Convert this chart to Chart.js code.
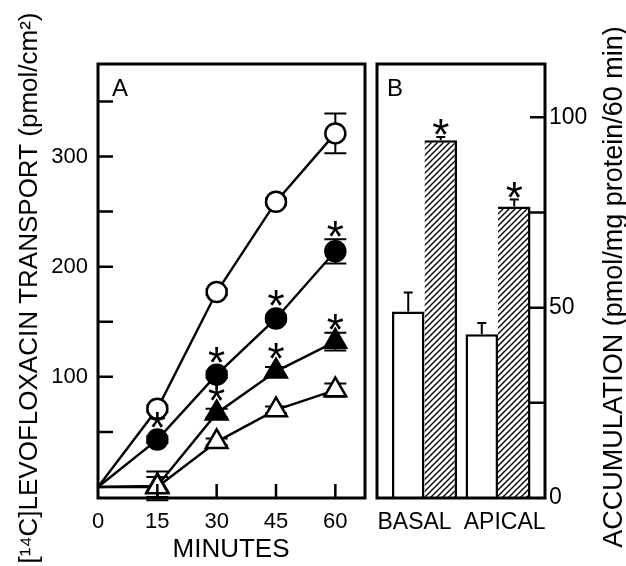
<!DOCTYPE html>
<html>
<head>
<meta charset="utf-8">
<script src="https://cdn.jsdelivr.net/npm/chart.js"></script>
<style>
html, body { margin: 0; padding: 0; background: #fff; }
#wrap { position: relative; width: 626px; height: 566px; }
#chartA { position: absolute; left: 0; top: 0; }
#chartB { position: absolute; left: 370px; top: 0; }
</style>
</head>
<body>
<div id="wrap">
  <canvas id="chartA" width="370" height="566"></canvas>
  <canvas id="chartB" width="256" height="566"></canvas>
</div>
<script>
// Panel A - transport over time
const minutes = [0, 15, 30, 45, 60];
const openCircle = [0, 71, 177, 259, 321];
const openCircleErr = [0, 3, 3, 3, 18];
const filledCircle = [0, 43, 102, 153, 214];
const filledCircleErr = [0, 3, 3, 3, 11];
const filledCircleStar = [false, true, true, true, true];
const filledTriangle = [0, 1, 67, 105, 132];
const filledTriangleErr = [0, 13, 4, 4, 8];
const filledTriangleStar = [false, false, true, true, true];
const openTriangle = [0, 0, 41, 70, 88];
const openTriangleErr = [0, 9, 3, 3, 6];

const xTicksA = [0, 15, 30, 45, 60];
const xMarksA = [15, 30, 45, 60];
const yTicksA = [100, 200, 300];
const yMarksA = [50, 100, 150, 200, 250, 300, 350];

// Panel B - accumulation
const sites = ['BASAL', 'APICAL'];
const controlAcc = [49, 43];
const controlErr = [5, 3];
const treatedAcc = [94, 76.6];
const treatedErr = [0.8, 1.8];
const treatedStar = [true, true];
const yTicksB = [0, 50, 100];
const yMarksB = [25, 50, 75, 100];

const FONT = "'Liberation Sans', Arial, Helvetica, sans-serif";
Chart.defaults.font.family = FONT;
Chart.defaults.color = '#000';

function pts(xs, ys) {
    return xs.map((x, i) => ({ x: x, y: ys[i] }));
}
function val(d) {
    return (d !== null && typeof d === 'object') ? d.y : d;
}
// fixed axis sizes, no extra padding for overhanging labels
function fixBox(size) {
    return s => {
        if (s.isHorizontal()) s.height = size; else s.width = size;
        s.paddingLeft = 0;
        s.paddingRight = 0;
        s.paddingTop = 0;
        s.paddingBottom = 0;
    };
}

// error bars, asterisks, frame, inward tick marks, panel letter, rotated titles
const decorPlugin = {
    id: 'decor',
    beforeDatasetsDraw(chart, args, opts) {
        const ctx = chart.ctx;
        const yScale = chart.scales.y;
        ctx.save();
        ctx.strokeStyle = '#000';
        ctx.lineWidth = opts.errWidth;
        chart.data.datasets.forEach((ds, di) => {
            if (!ds.errorBars) return;
            const meta = chart.getDatasetMeta(di);
            ds.errorBars.forEach((e, i) => {
                if (!e) return;
                const el = meta.data[i];
                const v = val(ds.data[i]);
                const top = yScale.getPixelForValue(v + e);
                const bot = opts.upOnly ? el.y : yScale.getPixelForValue(v - e);
                ctx.beginPath();
                ctx.moveTo(el.x, top);
                ctx.lineTo(el.x, bot);
                ctx.moveTo(el.x - opts.cap, top);
                ctx.lineTo(el.x + opts.cap, top);
                if (!opts.upOnly) {
                    ctx.moveTo(el.x - opts.cap, bot);
                    ctx.lineTo(el.x + opts.cap, bot);
                }
                ctx.stroke();
            });
        });
        ctx.restore();
    },
    afterDatasetsDraw(chart, args, opts) {
        const ctx = chart.ctx;
        const area = chart.chartArea;
        const yScale = chart.scales.y;
        const xScale = chart.scales.x;
        ctx.save();

        // asterisks
        ctx.fillStyle = '#000';
        ctx.font = '44px ' + FONT;
        ctx.textAlign = 'center';
        ctx.textBaseline = 'alphabetic';
        const m = ctx.measureText('*');
        const mid = (m.actualBoundingBoxDescent - m.actualBoundingBoxAscent) / 2;
        chart.data.datasets.forEach((ds, di) => {
            if (!ds.stars) return;
            const meta = chart.getDatasetMeta(di);
            ds.stars.forEach((s, i) => {
                if (!s) return;
                const el = meta.data[i];
                const v = val(ds.data[i]);
                const errTop = yScale.getPixelForValue(v + (ds.errorBars ? ds.errorBars[i] : 0));
                const cy = Math.min(el.y - opts.starGap, errTop - 10);
                ctx.fillText('*', el.x, cy - mid);
            });
        });

        // frame
        ctx.strokeStyle = '#000';
        ctx.lineWidth = 3;
        ctx.strokeRect(area.left, area.top, area.right - area.left, area.bottom - area.top);

        // inward tick marks
        ctx.lineWidth = 2.5;
        ctx.beginPath();
        (opts.yMarks || []).forEach(v => {
            const py = yScale.getPixelForValue(v);
            if (opts.ySide === 'left') {
                ctx.moveTo(area.left, py);
                ctx.lineTo(area.left + 15, py);
            } else {
                ctx.moveTo(area.right, py);
                ctx.lineTo(area.right - 15, py);
            }
        });
        (opts.xMarks || []).forEach(v => {
            const px = xScale.getPixelForValue(v);
            ctx.moveTo(px, area.bottom);
            ctx.lineTo(px, area.bottom - 14);
        });
        ctx.stroke();

        // panel letter
        ctx.font = '24px ' + FONT;
        ctx.textBaseline = 'middle';
        ctx.fillText(opts.letter, area.left + opts.letterDx, area.top + 25);

        // titles
        (opts.titles || []).forEach(t => {
            ctx.save();
            ctx.font = t.size + 'px ' + FONT;
            ctx.translate(t.x, t.y);
            ctx.rotate(t.rot);
            ctx.textAlign = 'center';
            ctx.textBaseline = 'middle';
            ctx.fillText(t.text, 0, 0);
            ctx.restore();
        });
        ctx.restore();
    }
};

function lineSet(data, err, stars, style, radius, filled) {
    return {
        data: pts(minutes, data),
        errorBars: err,
        stars: stars,
        borderColor: '#000',
        borderWidth: 2.4,
        pointStyle: style,
        pointRadius: minutes.map(m => m === 0 ? 0 : radius),
        pointBorderWidth: 2.5,
        pointBorderColor: '#000',
        pointBackgroundColor: filled ? '#000' : '#fff',
        tension: 0,
        fill: false
    };
}

new Chart(document.getElementById('chartA'), {
    type: 'line',
    data: {
        datasets: [
            lineSet(openTriangle, openTriangleErr, null, 'triangle', 12.5, false),
            lineSet(openCircle, openCircleErr, null, 'circle', 10, false),
            lineSet(filledCircle, filledCircleErr, filledCircleStar, 'circle', 10, true),
            lineSet(filledTriangle, filledTriangleErr, filledTriangleStar, 'triangle', 12.5, true)
        ]
    },
    options: {
        responsive: false,
        animation: false,
        events: [],
        clip: false,
        layout: { autoPadding: false, padding: { top: 64, right: 5, left: 0, bottom: 0 } },
        plugins: {
            legend: { display: false },
            tooltip: { enabled: false },
            decor: {
                errWidth: 2, cap: 11, upOnly: false, starGap: 20,
                yMarks: yMarksA, ySide: 'left', xMarks: xMarksA,
                letter: 'A', letterDx: 22,
                titles: [
                    { text: '[\u00b9\u2074C]LEVOFLOXACIN TRANSPORT (pmol/cm\u00b2)', size: 26, x: 30, y: 288, rot: -Math.PI / 2 },
                    { text: 'MINUTES', size: 26, x: 231, y: 550, rot: 0 }
                ]
            }
        },
        scales: {
            x: {
                type: 'linear',
                min: 0,
                max: 67.5,
                afterBuildTicks: s => { s.ticks = xTicksA.map(v => ({ value: v })); },
                afterFit: fixBox(68),
                ticks: { padding: 11, font: { size: 22 }, maxRotation: 0, autoSkip: false },
                grid: { display: false, drawTicks: false },
                border: { display: false }
            },
            y: {
                type: 'linear',
                min: -10,
                max: 384,
                afterBuildTicks: s => { s.ticks = yTicksA.map(v => ({ value: v })); },
                afterFit: fixBox(98),
                ticks: { padding: 10, font: { size: 22 } },
                grid: { display: false, drawTicks: false },
                border: { display: false }
            }
        }
    },
    plugins: [decorPlugin]
});

// hatch pattern for treated bars
const ctxB = document.getElementById('chartB').getContext('2d');
const tile = document.createElement('canvas');
tile.width = 6;
tile.height = 6;
const tg = tile.getContext('2d');
tg.fillStyle = '#fff';
tg.fillRect(0, 0, 6, 6);
tg.strokeStyle = '#000';
tg.lineWidth = 1.4;
tg.beginPath();
tg.moveTo(0, 6); tg.lineTo(6, 0);
tg.moveTo(-3, 3); tg.lineTo(3, -3);
tg.moveTo(3, 9); tg.lineTo(9, 3);
tg.stroke();
const hatch = ctxB.createPattern(tile, 'repeat');

const siteIdx = sites.map((s, i) => i);

new Chart(ctxB, {
    type: 'bar',
    data: {
        datasets: [
            {
                data: pts(siteIdx, controlAcc),
                errorBars: controlErr,
                backgroundColor: '#fff',
                borderColor: '#000',
                borderWidth: { left: 2.5, top: 2.5, right: 2.5, bottom: 0 },
                borderSkipped: false
            },
            {
                data: pts(siteIdx, treatedAcc),
                errorBars: treatedErr,
                stars: treatedStar,
                backgroundColor: hatch,
                borderColor: '#000',
                borderWidth: { left: 0, top: 2.5, right: 2.5, bottom: 0 },
                borderSkipped: false
            }
        ]
    },
    options: {
        responsive: false,
        animation: false,
        events: [],
        layout: { autoPadding: false, padding: { top: 64, left: 7, right: 0, bottom: 0 } },
        categoryPercentage: 0.884,
        barPercentage: 1.0,
        plugins: {
            legend: { display: false },
            tooltip: { enabled: false },
            decor: {
                errWidth: 2, cap: 4.5, upOnly: true, starGap: 0,
                yMarks: yMarksB, ySide: 'right',
                letter: 'B', letterDx: 18,
                titles: [
                    { text: 'ACCUMULATION (pmol/mg protein/60 min)', size: 27, x: 245, y: 287, rot: -Math.PI / 2 }
                ]
            }
        },
        scales: {
            x: {
                type: 'linear',
                offset: false,
                min: -0.646,
                max: 1.639,
                // the category labels sit a little apart from the bar pairs
                afterBuildTicks: s => { s.ticks = [-0.135, 1.09].map(v => ({ value: v })); },
                afterFit: fixBox(68),
                ticks: {
                    padding: 11,
                    font: { size: 23 },
                    maxRotation: 0,
                    autoSkip: false,
                    callback: (v, i) => sites[i]
                },
                grid: { display: false, drawTicks: false },
                border: { display: false }
            },
            y: {
                type: 'linear',
                position: 'right',
                min: 0,
                max: 114,
                afterBuildTicks: s => { s.ticks = yTicksB.map(v => ({ value: v })); },
                afterFit: fixBox(81),
                ticks: { padding: 4, font: { size: 23 } },
                grid: { display: false, drawTicks: false },
                border: { display: false }
            }
        }
    },
    plugins: [decorPlugin]
});
</script>
</body>
</html>
